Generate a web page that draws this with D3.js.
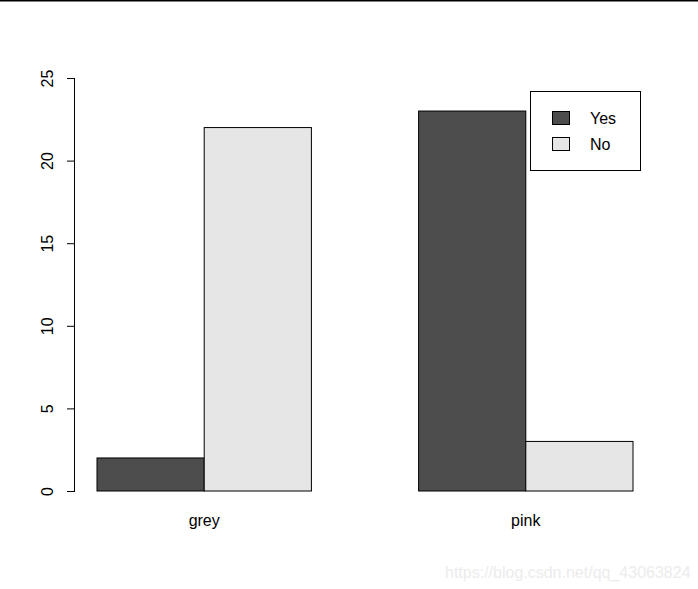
<!DOCTYPE html>
<html><head><meta charset="utf-8">
<script src="https://cdn.jsdelivr.net/npm/d3@7"></script>
<style>body{margin:0;background:#fff}svg{display:block}text{font-family:"Liberation Sans",Arial,sans-serif}</style>
</head><body><svg id="c" width="698" height="589"></svg>
<script>
const categories = ["grey", "pink"];
const seriesNames = ["Yes", "No"];
const yesValues = [2, 23];
const noValues = [22, 3];
const yTicks = [0, 5, 10, 15, 20, 25];
const colors = ["#4d4d4d", "#e6e6e6"];

const svg = d3.select("#c");
svg.append("line").attr("x1",0).attr("x2",698).attr("y1",0.5).attr("y2",0.5).attr("stroke","#000").attr("stroke-width",2);

const y = d3.scaleLinear().domain([0,25]).range([491,78]);
const x = d3.scaleLinear().domain([1,6]).range([97,633]);

const series = [yesValues, noValues];
categories.forEach((c,i)=>{
  const start = 1 + i*3;
  series.forEach((vals,j)=>{
    svg.append("rect")
      .attr("x", x(start+j)).attr("width", x(start+j+1)-x(start+j))
      .attr("y", y(vals[i])).attr("height", y(0)-y(vals[i]))
      .attr("fill", colors[j]).attr("stroke","#000").attr("stroke-width",1);
  });
  svg.append("text").attr("x", x(start+1)).attr("y", 526).attr("text-anchor","middle")
    .attr("font-size",16).attr("fill","#000").text(c);
});

const axis = d3.axisLeft(y).tickValues(yTicks).tickSize(8).tickPadding(18);
const g = svg.append("g").attr("transform","translate(75,0)").call(axis);
g.select(".domain").attr("d", `M-0.5,${y(25)}V${y(0)}`).attr("stroke","#000");
g.selectAll(".tick line").attr("stroke","#000");
g.selectAll(".tick text").attr("font-size",16).attr("fill","#000")
  .attr("text-anchor","middle").attr("x",0).attr("dy",0)
  .attr("transform", d=>`translate(-28,0) rotate(-90) translate(0,6)`);
g.attr("font-family",null);

// legend
const lg = svg.append("g");
lg.append("rect").attr("x",530.5).attr("y",91.5).attr("width",110).attr("height",79).attr("fill","#fff").attr("stroke","#000");
seriesNames.forEach((n,j)=>{
  lg.append("rect").attr("x",552.5).attr("y",111.5+j*26).attr("width",17).attr("height",13).attr("fill",colors[j]).attr("stroke","#000");
  lg.append("text").attr("x",590).attr("y",124+j*26).attr("font-size",16).attr("fill","#000").text(n);
});

svg.append("text").attr("x",445).attr("y",578).attr("font-size",16).attr("fill","#ececec").text("https://blog.csdn.net/qq_43063824");
</script></body></html>
